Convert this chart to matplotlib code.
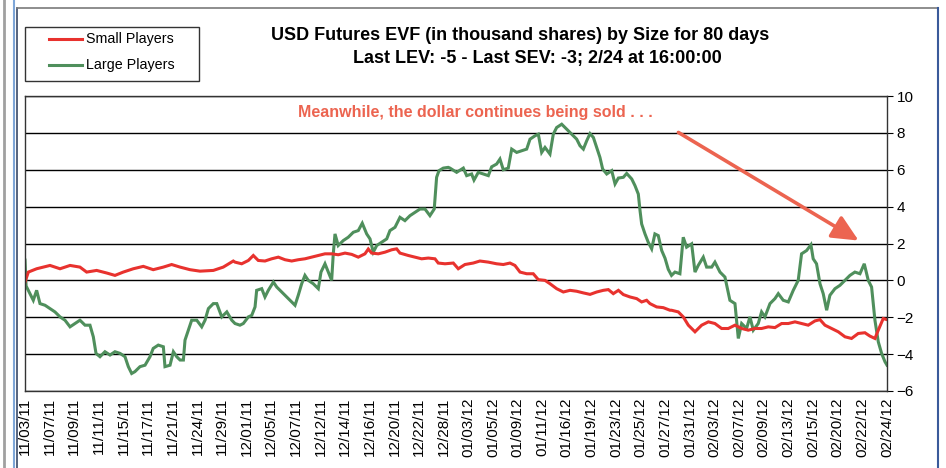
import numpy as np
import matplotlib
matplotlib.use('Agg')
import matplotlib.pyplot as plt
from matplotlib.lines import Line2D
from matplotlib.patches import Rectangle

plt.rcParams['font.family'] = ['Liberation Sans', 'DejaVu Sans']

# trading-day position (0..80) and EVF value
large_day = [0.0, 0.1, 0.46, 0.77, 1.08, 1.39, 1.86, 2.32, 2.78, 3.25, 3.71, 4.18, 4.64, 5.1, 5.57,
             6.03, 6.34, 6.59, 6.96, 7.42, 7.89, 8.35, 8.82, 9.28, 9.59, 9.9, 10.2, 10.67, 11.14,
             11.6, 11.9, 12.37, 12.84, 12.99, 13.46, 13.77, 14.08, 14.39, 14.7, 14.85, 15.16,
             15.47, 15.94, 16.4, 16.71, 17.02, 17.48, 17.8, 18.26, 18.73, 19.19, 19.49, 19.95,
             20.26, 20.73, 21.04, 21.35, 21.5, 21.97, 22.27, 22.58, 23.05, 23.36, 23.82, 24.29,
             24.75, 25.06, 25.36, 25.68, 25.98, 26.29, 26.75, 27.22, 27.47, 27.84, 28.15, 28.46,
             28.61, 28.77, 29.07, 29.54, 30.0, 30.47, 30.93, 31.3, 31.71, 32.02, 32.32, 32.64,
             33.1, 33.57, 33.87, 34.34, 34.8, 35.26, 35.73, 36.19, 36.66, 37.12, 37.58, 37.98,
             38.2, 38.42, 38.82, 39.28, 39.44, 40.06, 40.68, 40.99, 41.45, 41.67, 42.07, 42.53,
             43.0, 43.31, 43.77, 44.08, 44.39, 44.85, 45.17, 45.63, 46.09, 46.56, 46.87, 47.33,
             47.64, 47.95, 48.26, 48.72, 49.03, 49.34, 49.81, 50.27, 50.74, 51.2, 51.51, 51.82,
             52.13, 52.44, 52.75, 53.06, 53.36, 53.61, 53.99, 54.45, 54.76, 55.07, 55.53, 55.84,
             56.31, 56.61, 56.92, 57.08, 57.23, 57.54, 57.84, 58.16, 58.46, 58.77, 59.09, 59.4,
             59.7, 60.0, 60.32, 60.78, 61.09, 61.4, 61.87, 62.18, 62.48, 62.95, 63.26, 63.73,
             64.03, 64.5, 64.96, 65.42, 65.89, 66.2, 66.51, 66.97, 67.28, 67.59, 68.05, 68.36,
             68.67, 69.14, 69.6, 69.91, 70.37, 70.84, 71.3, 71.76, 72.07, 72.54, 72.94, 73.15,
             73.46, 73.78, 74.08, 74.4, 74.7, 75.17, 75.63, 76.1, 76.56, 77.02, 77.49, 77.89,
             78.26, 78.57, 78.88, 79.19, 79.5, 79.81, 80.0]
large_val = [1.1, -0.3, -0.72, -1.08, -0.54, -1.26, -1.35, -1.53, -1.71, -1.98, -2.16, -2.52, -2.34,
             -2.16, -2.43, -2.43, -3.06, -3.96, -4.14, -3.87, -4.05, -3.87, -3.96, -4.14, -4.68,
             -5.05, -4.95, -4.68, -4.6, -4.14, -3.69, -3.51, -3.6, -4.68, -4.6, -3.87, -4.14,
             -4.32, -4.32, -3.24, -2.7, -2.16, -2.16, -2.52, -2.16, -1.53, -1.26, -1.26, -1.98,
             -1.71, -2.16, -2.34, -2.43, -2.34, -1.98, -1.9, -1.44, -0.54, -0.45, -0.9, -0.54,
             -0.09, -0.36, -0.63, -0.9, -1.17, -1.35, -0.81, -0.18, 0.27, 0.0, -0.18, -0.45, 0.45,
             0.9, 0.45, 0.0, 1.44, 2.52, 1.89, 2.16, 2.34, 2.61, 2.7, 3.1, 2.52, 2.25, 1.53, 1.89,
             2.07, 2.25, 2.7, 2.88, 3.42, 3.24, 3.51, 3.69, 3.87, 3.87, 3.51, 3.87, 5.59, 5.95,
             6.09, 6.13, 6.09, 5.86, 6.09, 5.68, 5.77, 5.44, 5.86, 5.77, 5.68, 6.16, 6.31, 6.58,
             6.0, 6.09, 7.12, 6.94, 7.03, 7.12, 7.66, 7.84, 7.93, 6.94, 7.21, 6.85, 7.93, 8.29,
             8.47, 8.2, 7.93, 7.66, 7.3, 7.12, 7.57, 7.96, 7.75, 7.21, 6.67, 6.04, 5.77, 5.95,
             5.23, 5.55, 5.59, 5.8, 5.5, 5.14, 4.68, 3.78, 3.06, 2.52, 2.07, 1.71, 2.52, 2.43,
             1.62, 1.2, 0.6, 0.27, 0.45, 0.36, 2.34, 1.8, 1.98, 0.45, 0.81, 1.26, 0.72, 0.72,
             0.99, 0.45, 0.18, -1.08, -1.26, -3.15, -2.34, -2.61, -1.98, -2.7, -2.34, -1.71,
             -1.98, -1.26, -0.99, -0.72, -1.08, -1.17, -0.54, 0.0, 1.44, 1.62, 1.93, 1.17, 0.9,
             -0.18, -0.72, -1.62, -0.81, -0.45, -0.27, 0.0, 0.27, 0.45, 0.36, 0.9, 0.0, -0.36,
             -2.16, -3.33, -3.96, -4.41, -4.6]

small_day = [0.0, 0.31, 1.08, 2.32, 3.25, 4.18, 5.1, 5.72, 6.65, 7.58, 8.35, 9.12, 10.05, 10.98,
             11.9, 12.84, 13.61, 14.39, 15.31, 16.24, 17.48, 18.4, 19.33, 19.49, 20.11, 20.73,
             21.19, 21.65, 22.27, 22.89, 23.51, 24.13, 24.75, 25.36, 25.98, 26.6, 27.22, 27.84,
             28.46, 29.07, 29.7, 30.32, 30.93, 31.55, 31.86, 32.17, 32.79, 33.41, 34.03, 34.49,
             34.8, 35.57, 36.19, 36.81, 37.43, 38.05, 38.35, 38.98, 39.75, 40.21, 40.83, 41.6,
             42.22, 43.0, 43.77, 44.39, 45.01, 45.47, 45.94, 46.56, 47.17, 47.64, 48.26, 48.72,
             49.34, 49.96, 50.58, 51.2, 51.82, 52.44, 53.06, 53.67, 54.14, 54.6, 55.07, 55.53,
             56.15, 56.77, 57.23, 57.69, 58.0, 58.62, 59.24, 59.86, 60.0, 60.63, 61.09, 61.56,
             62.18, 62.8, 63.42, 64.03, 64.65, 65.27, 65.89, 66.51, 67.13, 67.74, 68.36, 68.98,
             69.6, 70.22, 70.84, 71.46, 72.07, 72.69, 73.31, 73.78, 74.24, 74.86, 75.48, 76.1,
             76.71, 77.33, 77.95, 78.41, 78.88, 79.19, 79.65, 80.0]
small_val = [-0.09, 0.45, 0.63, 0.81, 0.63, 0.81, 0.72, 0.45, 0.54, 0.4, 0.27, 0.45, 0.63, 0.76,
             0.58, 0.72, 0.86, 0.72, 0.58, 0.5, 0.54, 0.72, 1.05, 0.99, 0.9, 1.08, 1.35, 1.08,
             1.05, 1.17, 1.26, 1.12, 1.05, 1.12, 1.17, 1.26, 1.35, 1.44, 1.44, 1.39, 1.48, 1.41,
             1.26, 1.44, 1.7, 1.48, 1.44, 1.53, 1.66, 1.71, 1.48, 1.35, 1.26, 1.17, 1.21, 1.17,
             0.94, 0.9, 0.94, 0.63, 0.86, 0.94, 1.05, 0.99, 0.9, 0.86, 0.94, 0.81, 0.45, 0.36,
             0.36, 0.04, 0.0, -0.18, -0.45, -0.63, -0.54, -0.59, -0.68, -0.76, -0.63, -0.54, -0.5,
             -0.72, -0.54, -0.77, -0.9, -0.99, -1.17, -1.08, -1.26, -1.44, -1.48, -1.62, -1.62,
             -1.71, -1.98, -2.43, -2.79, -2.43, -2.25, -2.34, -2.61, -2.61, -2.43, -2.61, -2.7,
             -2.61, -2.61, -2.52, -2.56, -2.34, -2.34, -2.25, -2.34, -2.43, -2.2, -2.13, -2.43,
             -2.61, -2.79, -3.06, -3.15, -2.88, -2.84, -3.02, -3.15, -2.7, -2.07, -2.13]

date_labels = ['11/03/11', '11/07/11', '11/09/11', '11/11/11', '11/15/11', '11/17/11', '11/21/11',
               '11/24/11', '11/29/11', '12/01/11', '12/05/11', '12/07/11', '12/12/11', '12/14/11',
               '12/16/11', '12/20/11', '12/22/11', '12/28/11', '01/03/12', '01/05/12', '01/09/12',
               '01/11/12', '01/16/12', '01/19/12', '01/23/12', '01/25/12', '01/27/12', '01/31/12',
               '02/03/12', '02/07/12', '02/09/12', '02/13/12', '02/15/12', '02/20/12', '02/22/12',
               '02/24/12']
series_names = ['Small Players', 'Large Players']

RED = '#e8322e'
GREEN = '#4f8f5c'
NOTE = '#ec6450'

W, H = 946, 468
fig = plt.figure(figsize=(W / 100, H / 100), dpi=100)


def px(x, y):
    # pixel position (top-left origin) -> figure fraction
    return x / W, 1 - y / H


# outer frames (worksheet / chart borders)
fig.add_artist(Line2D([4 / W, 4 / W], [0, 1], color='#a0a0a0', lw=2.0))
fig.add_artist(Line2D([14 / W, 14 / W], [0, 1], color='#7ea6d8', lw=1.5))
fig.add_artist(Line2D([17 / W, 17 / W], [0, 1 - 8 / H], color='#3a4a6a', lw=1.2))
fig.add_artist(Line2D([17 / W, 938 / W], [1 - 8 / H, 1 - 8 / H], color='#7a7a7a', lw=1.2))
fig.add_artist(Line2D([938 / W, 938 / W], [0, 1 - 8 / H], color='#3a5a9a', lw=1.5))

ax = fig.add_axes([25 / W, 1 - 391 / H, 862 / W, 295 / H])
ax.plot(large_day, large_val, color=GREEN, lw=2.2, solid_joinstyle='miter')
ax.plot(small_day, small_val, color=RED, lw=2.2, solid_joinstyle='miter')

ax.set_xlim(0, 80)
ax.set_ylim(-6, 10)
ax.set_yticks(np.arange(-6, 11, 2))
ax.yaxis.tick_right()
ax.grid(axis='y', color='black', lw=1.0)
ax.set_axisbelow(True)
for s in ax.spines.values():
    s.set_color('#333333')
    s.set_linewidth(1.0)
ax.tick_params(axis='y', direction='out', length=4, labelsize=11, pad=3)

ax.set_xticks(np.linspace(0, 80, len(date_labels)))
ax.set_xticklabels(date_labels, rotation=90, fontsize=11)
ax.tick_params(axis='x', length=0, pad=5)

fig.text(*px(520, 36), 'USD Futures EVF (in thousand shares) by Size for 80 days',
         ha='center', va='center', fontsize=13, fontweight='bold')
fig.text(*px(537, 59), 'Last LEV: -5 - Last SEV: -3; 2/24 at 16:00:00',
         ha='center', va='center', fontsize=13, fontweight='bold')

fig.text(*px(475, 112), 'Meanwhile, the dollar continues being sold . . .',
         ha='center', va='center', fontsize=11.5, fontweight='bold', color=NOTE)
ax.annotate('', xy=px(861, 242), xytext=px(676, 131),
            xycoords='figure fraction', textcoords='figure fraction',
            arrowprops=dict(arrowstyle='-|>,head_length=1.6,head_width=0.75',
                            color=NOTE, lw=2.6))

# legend box drawn like the spreadsheet one
x0, y0 = px(25, 81)
x1, y1 = px(199, 27)
fig.add_artist(Rectangle((x0, y0), x1 - x0, y1 - y0, transform=fig.transFigure,
                         facecolor='white', edgecolor='#333333', lw=1.0))
for name, col, yy in zip(series_names, [RED, GREEN], [39, 65]):
    fig.add_artist(Line2D([49 / W, 82 / W], [1 - yy / H] * 2, color=col, lw=2.2))
    fig.text(*px(86, yy), name, ha='left', va='center', fontsize=10.3)

fig.savefig('out.png', dpi=100)
